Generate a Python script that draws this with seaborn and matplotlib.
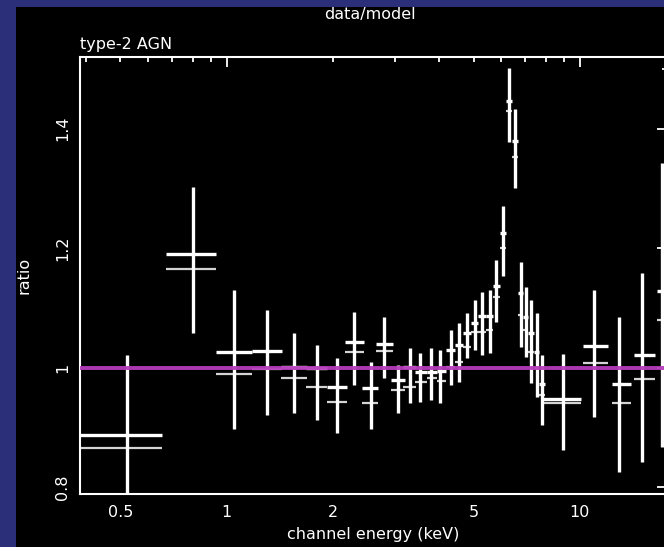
import numpy as np
import matplotlib
matplotlib.use("Agg")
import matplotlib.pyplot as plt
from matplotlib.patches import Rectangle
from matplotlib.ticker import FixedLocator, FixedFormatter, MultipleLocator, FuncFormatter
import seaborn as sns

# Channel energy bins (keV): centre, lower edge, upper edge
energy = [0.521, 0.801, 1.047, 1.298, 1.548, 1.799, 2.05, 2.29, 2.558, 2.785,
          3.051, 3.299, 3.522, 3.784, 4.012, 4.311, 4.543, 4.785, 5.041, 5.277,
          5.559, 5.781, 6.052, 6.294, 6.546, 6.807, 7.031, 7.265, 7.555, 7.805,
          8.953, 10.96, 12.9, 14.98, 17.07]
e_lo = [0.38, 0.672, 0.93, 1.177, 1.42, 1.674, 1.918, 2.16, 2.41, 2.64,
        2.91, 3.15, 3.41, 3.68, 3.93, 4.17, 4.42, 4.66, 4.91, 5.14,
        5.42, 5.67, 5.94, 6.17, 6.42, 6.67, 6.89, 7.12, 7.44, 7.65,
        7.8, 10.2, 12.3, 14.2, 16.5]
e_hi = [0.654, 0.931, 1.177, 1.431, 1.685, 1.918, 2.19, 2.44, 2.68, 2.95,
        3.19, 3.43, 3.68, 3.93, 4.17, 4.42, 4.66, 4.91, 5.14, 5.42,
        5.67, 5.94, 6.17, 6.42, 6.67, 6.89, 7.12, 7.44, 7.65, 7.96,
        10.1, 12.0, 14.0, 16.3, 18.5]

# data/model ratio with its error range
ratio = [0.888, 1.191, 1.027, 1.028, 1.002, 1.000, 0.968, 1.044, 0.967, 1.040,
         0.980, 1.002, 0.993, 0.993, 0.995, 1.030, 1.038, 1.059, 1.075, 1.087,
         1.087, 1.137, 1.226, 1.447, 1.380, 1.126, 1.085, 1.059, 1.027, 0.973,
         0.948, 1.037, 0.973, 1.022, 1.129]
ratio_hi = [1.022, 1.303, 1.131, 1.097, 1.059, 1.039, 1.017, 1.094, 1.010, 1.085,
            1.005, 1.033, 1.025, 1.033, 1.030, 1.064, 1.075, 1.092, 1.114, 1.127,
            1.131, 1.181, 1.271, 1.502, 1.433, 1.177, 1.136, 1.114, 1.092, 1.022,
            1.023, 1.131, 1.085, 1.159, 1.343]
ratio_lo = [0.74, 1.059, 0.898, 0.921, 0.925, 0.913, 0.891, 0.972, 0.898, 0.983,
            0.925, 0.941, 0.943, 0.946, 0.941, 0.972, 0.977, 1.017, 1.030, 1.022,
            1.025, 1.077, 1.154, 1.378, 1.301, 1.035, 1.018, 0.975, 0.951, 0.905,
            0.863, 0.918, 0.826, 0.843, 0.868]
# second data set ratio in the same bins
ratio2 = [0.866, 1.166, 0.990, 0.998, 0.983, 0.968, 0.943, 1.027, 0.941, 1.028,
          0.963, 0.968, 0.977, 0.983, 0.978, 1.002, 1.010, 1.035, 1.060, 1.060,
          1.064, 1.119, 1.201, 1.430, 1.353, 1.089, 1.064, 1.027, 1.000, 0.955,
          0.941, 1.008, 0.941, 0.982, 1.080]

x_ticks_labelled = [0.5, 1, 2, 5, 10]
y_ticks_labelled = [0.8, 1.0, 1.2, 1.4]

sns.set_theme(style="dark")
plt.rcParams["font.family"] = ["DejaVu Sans"]

W, H = 664, 547
fig = plt.figure(figsize=(W / 100, H / 100), dpi=100)
fig.patch.set_facecolor("#2b2f7a")
fig.patches.append(Rectangle((16 / W, 0), 1 - 16 / W, (H - 7) / H,
                             transform=fig.transFigure, facecolor="black",
                             edgecolor="none", zorder=-5))

# the frame runs slightly past the right edge of the canvas
x_right = 666.5
ax = fig.add_axes([80 / W, (H - 494) / H, (x_right - 80) / W, (494 - 57) / H])
ax.set_zorder(3)
ax.set_facecolor("black")

energy = np.array(energy)
e_lo = np.array(e_lo)
e_hi = np.array(e_hi)
ratio = np.array(ratio)
ratio2 = np.array(ratio2)
xerr = [energy - e_lo, e_hi - energy]
yerr = [ratio - np.array(ratio_lo), np.array(ratio_hi) - ratio]

# second data set: bin widths only
ax.errorbar(energy, ratio2, xerr=xerr, fmt="none", ecolor="#d4d4d4",
            elinewidth=1.6, capsize=0, zorder=2)
# main data set with vertical error bars
ax.errorbar(energy, ratio, xerr=xerr, yerr=yerr, fmt="none", ecolor="white",
            elinewidth=2.4, capsize=0, zorder=3)

ax.axhline(1.0, color="#b53cbc", lw=2.8, alpha=0.95, zorder=4)

ax.set_xscale("log")
ax.set_xlim(0.384, 17.6)
ax.set_ylim(0.789, 1.52)

major_x = [1, 10]
minor_x = [0.4, 0.5, 0.6, 0.7, 0.8, 0.9, 2, 3, 4, 5, 6, 7, 8, 9]
ax.xaxis.set_major_locator(FixedLocator(major_x))
ax.xaxis.set_major_formatter(FixedFormatter(["1", "10"]))
ax.xaxis.set_minor_locator(FixedLocator(minor_x))
ax.xaxis.set_minor_formatter(FixedFormatter(
    [("%g" % v) if v in x_ticks_labelled else "" for v in minor_x]))

ax.yaxis.set_major_locator(FixedLocator(y_ticks_labelled))
ax.yaxis.set_major_formatter(FuncFormatter(lambda v, p: "%g" % round(v, 1)))
ax.yaxis.set_minor_locator(MultipleLocator(0.1))

for which, length in (("major", 7), ("minor", 3.8)):
    ax.tick_params(axis="both", which=which, direction="in", length=length,
                   width=1.3, colors="white", top=True, right=True,
                   labelsize=11.5, pad=7)
ax.tick_params(axis="y", which="major", labelrotation=90)
for lab in ax.get_yticklabels():
    lab.set_va("center")
ax.tick_params(axis="x", which="both", pad=8)

for s in ax.spines.values():
    s.set_color("white")
    s.set_linewidth(1.5)
ax.grid(False)

ax.set_xlabel("channel energy (keV)", color="white", fontsize=11.5, labelpad=5)
ax.set_ylabel("ratio", color="white", fontsize=11.5, labelpad=17)
fig.text(370 / W, 1 - 15 / H, "data/model", color="white", fontsize=11.5,
         ha="center", va="center")
fig.text(80 / W, 1 - 45 / H, "type-2 AGN", color="white", fontsize=11.5,
         ha="left", va="center")

fig.savefig("out.png", dpi=100, facecolor=fig.get_facecolor())
